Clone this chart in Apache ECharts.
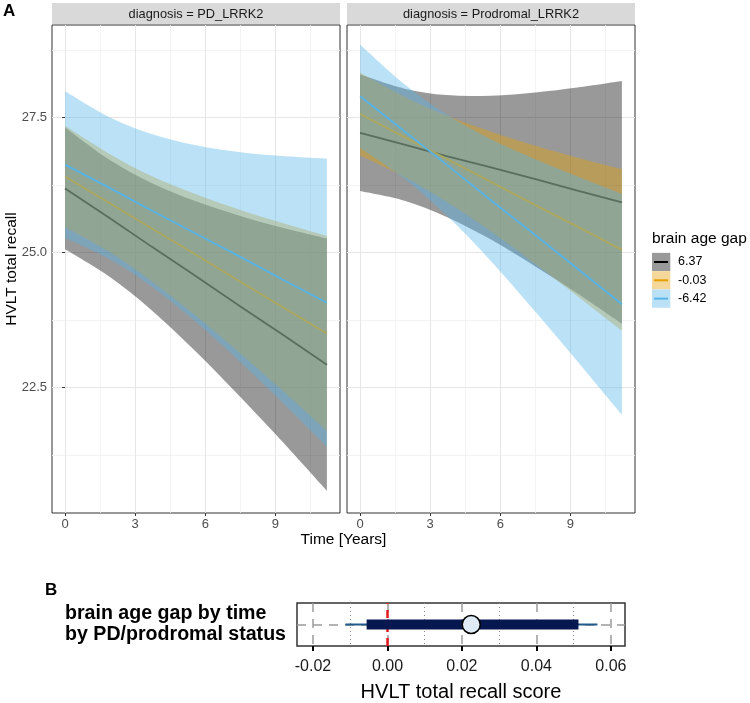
<!DOCTYPE html>
<html><head><meta charset="utf-8">
<script src="https://cdn.jsdelivr.net/npm/echarts@6/dist/echarts.min.js"></script>
<style>html,body{margin:0;padding:0;background:#fff}#c{width:750px;height:703px}</style>
</head><body><div id="c"></div>
<script>
// ---------- DATA ----------
const panelTitles = ['diagnosis = PD_LRRK2', 'diagnosis = Prodromal_LRRK2'];
const gapLabels = ['6.37', '-0.03', '-6.42'];
const timePoints = [0, 1.9, 3.7, 5.6, 7.5, 9.3, 11.2];
const xTicks = [0, 3, 6, 9];
const xMinorTicks = [1.5, 4.5, 7.5, 10.5];
const yTicks = [22.5, 25.0, 27.5];
const yMinorTicks = [21.25, 23.75, 26.25, 28.75];

// PD_LRRK2
const pdFit637  = [26.19, 25.64, 25.11, 24.56, 24.00, 23.48, 22.92];
const pdLow637  = [25.06, 24.55, 23.93, 23.16, 22.32, 21.49, 20.58];
const pdHigh637 = [27.32, 26.72, 26.29, 25.95, 25.68, 25.46, 25.26];
const pdFitM003  = [26.41, 25.92, 25.45, 24.96, 24.46, 23.99, 23.50];
const pdLowM003  = [25.47, 25.01, 24.47, 23.83, 23.13, 22.44, 21.69];
const pdHighM003 = [27.35, 26.83, 26.42, 26.08, 25.79, 25.55, 25.31];
const pdFitM642  = [26.63, 26.20, 25.78, 25.35, 24.92, 24.50, 24.07];
const pdLowM642  = [25.27, 24.88, 24.37, 23.71, 22.97, 22.22, 21.40];
const pdHighM642 = [27.99, 27.51, 27.20, 26.99, 26.86, 26.79, 26.74];

// Prodromal_LRRK2
const prFit637  = [27.22, 27.00, 26.79, 26.58, 26.36, 26.15, 25.93];
const prLow637  = [26.14, 25.96, 25.66, 25.24, 24.74, 24.24, 23.68];
const prHigh637 = [28.30, 28.04, 27.92, 27.91, 27.97, 28.06, 28.18];
const prFitM003  = [27.57, 27.14, 26.74, 26.31, 25.88, 25.48, 25.05];
const prLowM003  = [26.80, 26.40, 25.94, 25.39, 24.79, 24.19, 23.55];
const prHighM003 = [28.34, 27.89, 27.54, 27.24, 26.98, 26.76, 26.55];
const prFitM642  = [27.90, 27.25, 26.63, 25.97, 25.32, 24.70, 24.04];
const prLowM642  = [26.94, 26.37, 25.69, 24.84, 23.90, 22.98, 21.99];
const prHighM642 = [28.86, 28.12, 27.56, 27.10, 26.73, 26.41, 26.09];

// Panel B (forest)
const forestLabel = 'brain age gap by time\nby PD/prodromal status';
const forestEstimate = 0.0225;
const forestOuter = [-0.0113, 0.0564];
const forestInner = [-0.0056, 0.0513];
const forestTicks = [-0.02, 0.00, 0.02, 0.04, 0.06];
const forestMinorTicks = [-0.01, 0.01, 0.03, 0.05];

// ---------- STYLE ----------
const FONT = '"Liberation Sans", Arial, Helvetica, sans-serif';
const lineColors = ['#000000', '#E69F00', '#56B4E9'];
const ribbonColors = ['#000000', '#E69F00', '#56B4E9'];
const keyFills = ['#999999', '#f5d899', '#bbe1f6'];

const panelsData = [
  {fit: [pdFit637, pdFitM003, pdFitM642], low: [pdLow637, pdLowM003, pdLowM642], high: [pdHigh637, pdHighM003, pdHighM642]},
  {fit: [prFit637, prFitM003, prFitM642], low: [prLow637, prLowM003, prLowM642], high: [prHigh637, prHighM003, prHighM642]}
];

const panelLeft = [52, 347];
const panelW = 288, panelTop = 25, panelH = 488;

const grids = [
  {left: panelLeft[0], top: panelTop, width: panelW, height: panelH, show: true, borderColor: '#333', borderWidth: 1, backgroundColor: 'transparent'},
  {left: panelLeft[1], top: panelTop, width: panelW, height: panelH, show: true, borderColor: '#333', borderWidth: 1, backgroundColor: 'transparent'},
  {left: 297, top: 603, width: 328, height: 44, show: true, borderColor: '#333', borderWidth: 1.5, backgroundColor: 'transparent'}
];

const xAxes = [], yAxes = [];
for (let p = 0; p < 2; p++) {
  xAxes.push({
    type: 'value', gridIndex: p, min: -0.56, max: 11.76,
    axisLine: {show: false},
    axisTick: {show: true, length: 3, customValues: xTicks, lineStyle: {color: '#333', width: 1}},
    axisLabel: {show: true, customValues: xTicks, color: '#4d4d4d', fontSize: 13, fontFamily: FONT, margin: 5},
    splitLine: {show: true, lineStyle: {color: '#e6e6e6', width: 1}}
  });
  xAxes.push({
    type: 'value', gridIndex: p, min: -0.56, max: 11.76,
    axisLine: {show: false},
    axisTick: {show: false, customValues: xMinorTicks},
    axisLabel: {show: false, customValues: xMinorTicks},
    splitLine: {show: true, lineStyle: {color: '#f0f0f0', width: 0.8}}
  });
  yAxes.push({
    type: 'value', gridIndex: p, min: 20.17, max: 29.22,
    axisLine: {show: false},
    axisTick: {show: p === 0, length: 3, customValues: yTicks, lineStyle: {color: '#333', width: 1}},
    axisLabel: {show: p === 0, customValues: yTicks, color: '#4d4d4d', fontSize: 13, fontFamily: FONT, margin: 5,
      formatter: v => v.toFixed(1)},
    splitLine: {show: true, lineStyle: {color: '#e6e6e6', width: 1}}
  });
  yAxes.push({
    type: 'value', gridIndex: p, min: 20.17, max: 29.22,
    axisLine: {show: false},
    axisTick: {show: false, customValues: yMinorTicks},
    axisLabel: {show: false, customValues: yMinorTicks},
    splitLine: {show: true, lineStyle: {color: '#f0f0f0', width: 0.8}}
  });
}
// Panel B axes: xAxis index 4 (major), 5 (minor dotted); yAxis index 4
xAxes.push({
  type: 'value', gridIndex: 2, min: -0.0243, max: 0.0638,
  axisLine: {show: false},
  axisTick: {show: true, length: 5, customValues: forestTicks, lineStyle: {color: '#000', width: 2}},
  axisLabel: {show: true, customValues: forestTicks, color: '#1a1a1a', fontSize: 16, fontFamily: FONT, margin: 13,
    formatter: v => v.toFixed(2)},
  splitLine: {show: true, lineStyle: {color: '#9a9a9a', width: 1.5, type: [9, 7]}},
  name: 'HVLT total recall score', nameLocation: 'middle', nameGap: 36,
  nameTextStyle: {fontSize: 20, color: '#000', fontFamily: FONT}
});
xAxes.push({
  type: 'value', gridIndex: 2, min: -0.0243, max: 0.0638,
  axisLine: {show: false},
  axisTick: {show: false, customValues: forestMinorTicks},
  axisLabel: {show: false, customValues: forestMinorTicks},
  splitLine: {show: true, lineStyle: {color: '#8a8a8a', width: 1, type: [1, 3]}}
});
yAxes.push({
  type: 'category', gridIndex: 2, data: [forestLabel],
  axisLine: {show: false},
  axisTick: {show: true, alignWithLabel: true, length: 5, lineStyle: {color: '#000', width: 2.5}},
  axisLabel: {show: true, color: '#000', fontSize: 19.6, fontWeight: 'bold', fontFamily: FONT, lineHeight: 21, align: 'left', margin: 232},
  splitLine: {show: false}
});

// Catmull-Rom smoothing of already-projected points into an SVG path segment
function smoothSeg(pts, startWithMove) {
  let s = startWithMove ? 'M' + pts[0][0] + ' ' + pts[0][1] : 'L' + pts[0][0] + ' ' + pts[0][1];
  for (let i = 0; i < pts.length - 1; i++) {
    const p0 = pts[Math.max(0, i - 1)], p1 = pts[i], p2 = pts[i + 1], p3 = pts[Math.min(pts.length - 1, i + 2)];
    const c1 = [p1[0] + (p2[0] - p0[0]) / 6, p1[1] + (p2[1] - p0[1]) / 6];
    const c2 = [p2[0] - (p3[0] - p1[0]) / 6, p2[1] - (p3[1] - p1[1]) / 6];
    s += 'C' + c1[0] + ' ' + c1[1] + ' ' + c2[0] + ' ' + c2[1] + ' ' + p2[0] + ' ' + p2[1];
  }
  return s;
}

const series = [];
for (let p = 0; p < 2; p++) {
  const d = panelsData[p];
  for (let g = 0; g < 3; g++) {
    const lo = d.low[g], hi = d.high[g];
    series.push({
      type: 'custom', name: gapLabels[g] + ' band', xAxisIndex: p * 2, yAxisIndex: p * 2,
      z: 2 + g * 2, silent: true, clip: true,
      data: [[timePoints[0], lo[0]]],
      renderItem: function (params, api) {
        const top = timePoints.map((t, i) => api.coord([t, hi[i]]));
        const bot = timePoints.map((t, i) => api.coord([t, lo[i]])).reverse();
        const path = smoothSeg(top, true) + smoothSeg(bot, false) + 'Z';
        return {type: 'path', shape: {pathData: path}, style: {fill: ribbonColors[g], opacity: 0.4, stroke: null}};
      }
    });
    series.push({
      type: 'line', name: gapLabels[g], xAxisIndex: p * 2, yAxisIndex: p * 2,
      z: 3 + g * 2, silent: true, showSymbol: false, symbol: 'none',
      data: timePoints.map((t, i) => [t, d.fit[g][i]]),
      lineStyle: {color: lineColors[g], width: 1.8}
    });
  }
}
// Panel B: reference lines
series.push({
  type: 'line', xAxisIndex: 4, yAxisIndex: 4, z: 1, silent: true, showSymbol: false,
  data: [],
  markLine: {
    z: 1, silent: true, symbol: ['none', 'none'], label: {show: false},
    data: [
      {yAxis: 0, lineStyle: {color: '#9a9a9a', width: 1.5, type: [9, 7]}},
      {xAxis: 0, lineStyle: {color: '#e41a1c', width: 2.5, type: [8, 6]}}
    ]
  }
});
series.push({
  type: 'line', xAxisIndex: 4, yAxisIndex: 4, z: 3, silent: true, showSymbol: false, symbol: 'none',
  data: [[forestOuter[0], forestLabel], [forestOuter[1], forestLabel]],
  lineStyle: {color: '#1f5a8a', width: 2.2, cap: 'butt'}
});
series.push({
  type: 'line', xAxisIndex: 4, yAxisIndex: 4, z: 4, silent: true, showSymbol: false, symbol: 'none',
  data: [[forestInner[0], forestLabel], [forestInner[1], forestLabel]],
  lineStyle: {color: '#07174f', width: 10, cap: 'butt'}
});
series.push({
  type: 'scatter', xAxisIndex: 4, yAxisIndex: 4, z: 5, silent: true,
  data: [[forestEstimate, forestLabel]],
  symbol: 'circle', symbolSize: 18,
  itemStyle: {color: '#deebf7', borderColor: '#000', borderWidth: 1.5, opacity: 1}
});

// ---------- GRAPHIC (strips, titles, legend) ----------
const graphic = [];
for (let p = 0; p < 2; p++) {
  graphic.push({type: 'rect', left: panelLeft[p], top: 3, shape: {width: panelW, height: 21}, style: {fill: '#d9d9d9'}, z: 10});
  graphic.push({type: 'text', x: panelLeft[p] + panelW / 2, y: 14, z: 11,
    style: {text: panelTitles[p], fill: '#1a1a1a', font: '12.8px ' + FONT, align: 'center', verticalAlign: 'middle'}});
}
graphic.push({type: 'text', x: 3, y: 11, z: 11, style: {text: 'A', fill: '#000', font: 'bold 17px ' + FONT, align: 'left', verticalAlign: 'middle'}});
graphic.push({type: 'text', x: 45, y: 590, z: 11, style: {text: 'B', fill: '#000', font: 'bold 17px ' + FONT, align: 'left', verticalAlign: 'middle'}});
graphic.push({type: 'text', x: 343.5, y: 540, z: 11, style: {text: 'Time [Years]', fill: '#000', font: '15.5px ' + FONT, align: 'center', verticalAlign: 'middle'}});
graphic.push({type: 'text', x: 12, y: 269, rotation: Math.PI / 2, z: 11, style: {text: 'HVLT total recall', fill: '#000', font: '15.5px ' + FONT, align: 'center', verticalAlign: 'middle'}});
// legend
graphic.push({type: 'text', x: 652, y: 239, z: 11, style: {text: 'brain age gap', fill: '#000', font: '15.5px ' + FONT, align: 'left', verticalAlign: 'middle'}});
for (let g = 0; g < 3; g++) {
  const cy = 262 + g * 18.3;
  graphic.push({type: 'rect', left: 652, top: cy - 9.15, shape: {width: 18.3, height: 18.3}, style: {fill: keyFills[g]}, z: 11});
  graphic.push({type: 'line', shape: {x1: 654, y1: cy, x2: 668, y2: cy}, style: {stroke: lineColors[g], lineWidth: 2}, z: 12});
  graphic.push({type: 'text', x: 678, y: cy, z: 11, style: {text: gapLabels[g], fill: '#000', font: '12.5px ' + FONT, align: 'left', verticalAlign: 'middle'}});
}

const chart = echarts.init(document.getElementById('c'), null, {renderer: 'canvas'});
chart.setOption({
  animation: false,
  backgroundColor: '#ffffff',
  textStyle: {fontFamily: FONT},
  grid: grids,
  xAxis: xAxes,
  yAxis: yAxes,
  series: series,
  graphic: graphic
});
</script>
</body></html>
